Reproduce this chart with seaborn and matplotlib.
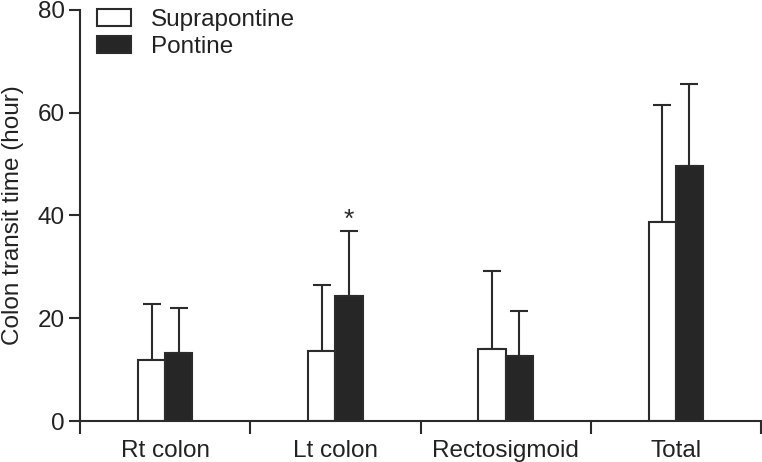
import numpy as np
import pandas as pd
import matplotlib
matplotlib.use("Agg")
import matplotlib.pyplot as plt
import seaborn as sns

# values (hours)
categories = ["Rt colon", "Lt colon", "Rectosigmoid", "Total"]
groups = ["Suprapontine", "Pontine"]
supra_mean = [11.8, 13.7, 14.1, 38.8]
supra_sd = [10.9, 12.8, 15.0, 22.8]
pontine_mean = [13.2, 24.3, 12.6, 49.7]
pontine_sd = [8.8, 12.7, 8.9, 15.9]
yticks = [0, 20, 40, 60, 80]

df = pd.DataFrame({
    "region": categories * 2,
    "group": [groups[0]] * 4 + [groups[1]] * 4,
    "mean": supra_mean + pontine_mean,
    "sd": supra_sd + pontine_sd,
})

sns.set_theme(style="ticks")
plt.rcParams["font.family"] = ["Liberation Sans", "DejaVu Sans"]
ink = "#2b2b2b"
fs = 17.5

fig = plt.figure(figsize=(7.62, 4.62), dpi=100)
ax = fig.add_axes([80 / 762, 41 / 462, 681 / 762, 411 / 462])

sns.barplot(data=df, x="region", y="mean", hue="group", order=categories,
            hue_order=groups, palette=["white", "#262626"], width=0.32,
            edgecolor=ink, linewidth=1.5, errorbar=None, ax=ax, zorder=2)

# one-sided error bars on top of each bar
sds = [supra_sd, pontine_sd]
bar_containers = list(ax.containers)
tops = {}
for gi, cont in enumerate(bar_containers):
    for ci, bar in enumerate(cont.patches):
        xc = bar.get_x() + bar.get_width() / 2
        h = bar.get_height()
        ax.errorbar(xc, h, yerr=[[0], [sds[gi][ci]]], fmt="none", ecolor=ink,
                    elinewidth=1.5, capsize=6.5, capthick=1.5, zorder=1)
        tops[(gi, ci)] = (xc, h + sds[gi][ci])

# significance mark on Lt colon pontine
xs, ys = tops[(1, 1)]
ax.text(xs, ys - 0.2, "*", ha="center", va="bottom", fontsize=19, color=ink)

ax.set_xlim(-0.5, 3.5)
ax.set_ylim(0, 80)
ax.set_yticks(yticks)
ax.set_xlabel("")
ax.set_ylabel("Colon transit time (hour)", fontsize=fs, color="#222222", labelpad=10)

ax.set_xticks(np.arange(len(categories)))
ax.set_xticklabels(categories)
ax.set_xticks(np.arange(len(categories) + 1) - 0.5, minor=True)
ax.tick_params(axis="x", which="major", length=0, pad=14, labelsize=fs, labelcolor="#222222")
ax.tick_params(axis="x", which="minor", length=9, width=1.5, color=ink)
ax.tick_params(axis="y", length=8, width=1.5, color=ink, labelsize=fs, labelcolor="#222222", pad=3)

sns.despine(ax=ax)
for s in ["left", "bottom"]:
    ax.spines[s].set_linewidth(1.5)
    ax.spines[s].set_color(ink)

leg = ax.legend(loc="upper left", bbox_to_anchor=(0.025, 1.003), frameon=False,
                fontsize=fs, handlelength=1.38, handleheight=0.7,
                handletextpad=0.85, labelspacing=0.2, borderpad=0, borderaxespad=0)
for t in leg.get_texts():
    t.set_color("#222222")

fig.savefig("out.png", dpi=100)
